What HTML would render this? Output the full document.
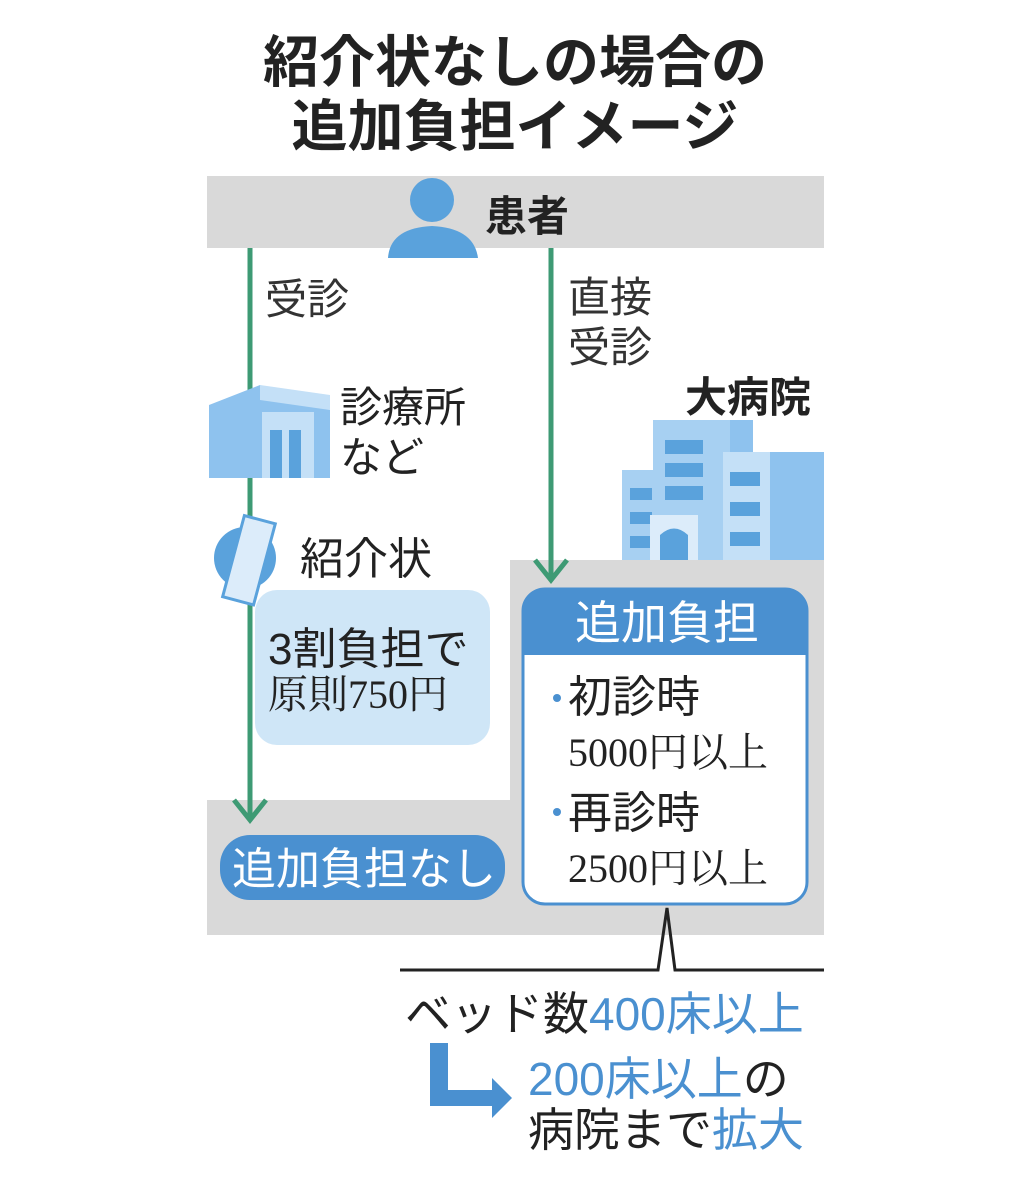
<!DOCTYPE html>
<html><head><meta charset="utf-8"><style>
html,body{margin:0;padding:0;background:#fff;}
svg{display:block;}
text{font-family:"Liberation Sans","Noto Sans CJK JP",sans-serif;}
.s{font-family:"Liberation Serif","Noto Serif CJK SC",serif;}
</style></head><body>
<svg width="1031" height="1200" viewBox="0 0 1031 1200" xmlns="http://www.w3.org/2000/svg">
<text x="515" y="82" font-size="56" font-weight="bold" text-anchor="middle" fill="#222">紹介状なしの場合の</text>
<text x="515" y="146" font-size="56" font-weight="bold" text-anchor="middle" fill="#222">追加負担イメージ</text>
<rect x="207" y="176" width="617" height="72" fill="#d9d9d9"/>
<circle cx="432" cy="200" r="22" fill="#5aa2dc"/>
<path d="M388 258 Q390 228 432 226 Q474 228 478 258 Z" fill="#5aa2dc"/>
<text x="485" y="231" font-size="42" font-weight="bold" fill="#222">患者</text>
<polygon points="207,800 510,800 510,560 824,560 824,935 207,935" fill="#d9d9d9"/>
<g stroke="#3e9a74" stroke-width="5" fill="none">
<line x1="250" y1="248" x2="250" y2="818"/>
<polyline points="234,800 250,820 266,800"/>
<line x1="551" y1="248" x2="551" y2="578"/>
<polyline points="535,560 551,580 567,560"/>
</g>
<text x="265" y="314" font-size="42" fill="#333">受診</text>
<text x="568" y="312" font-size="42" fill="#333">直接</text>
<text x="568" y="362" font-size="42" fill="#333">受診</text>
<!-- clinic -->
<polygon points="209,405 260,385 330,410 330,478 209,478" fill="#8ec2ee"/>
<polygon points="260,385 330,395 330,410 260,400" fill="#c4e0f7"/>
<rect x="262" y="412" width="52" height="66" fill="#c4e0f7"/>
<rect x="270" y="430" width="12" height="48" fill="#5aa2dc"/>
<rect x="289" y="430" width="12" height="48" fill="#5aa2dc"/>
<text x="340" y="422" font-size="42" fill="#222">診療所</text>
<text x="340" y="472" font-size="42" fill="#222">など</text>
<!-- letter -->
<circle cx="245" cy="558" r="31" fill="#5aa2dc"/>
<g transform="rotate(15 248 560)"><rect x="233" y="518" width="32" height="84" fill="#dcecfa" stroke="#5aa2dc" stroke-width="3"/></g>
<text x="300" y="574" font-size="44" fill="#222">紹介状</text>
<rect x="255" y="590" width="235" height="155" rx="22" fill="#cfe6f7"/>
<text x="268" y="664" font-size="44" fill="#222">3割負担で</text>
<text x="268" y="708" font-size="40" class="s" fill="#222">原則750円</text>
<!-- hospital -->
<rect x="622" y="470" width="60" height="90" fill="#a7d0f2"/>
<rect x="653" y="420" width="100" height="140" fill="#a7d0f2"/>
<rect x="730" y="420" width="23" height="140" fill="#8ec2ee"/>
<rect x="723" y="452" width="101" height="108" fill="#c4e0f7"/>
<rect x="770" y="452" width="54" height="108" fill="#8ec2ee"/>
<g fill="#5aa2dc">
<rect x="665" y="440" width="38" height="14"/><rect x="665" y="463" width="38" height="14"/><rect x="665" y="486" width="38" height="14"/>
<rect x="630" y="488" width="22" height="12"/><rect x="630" y="512" width="22" height="12"/><rect x="630" y="536" width="22" height="12"/>
<rect x="730" y="472" width="30" height="14"/><rect x="730" y="502" width="30" height="14"/><rect x="730" y="532" width="30" height="14"/>
</g>
<rect x="650" y="515" width="48" height="45" fill="#dcecfa"/>
<path d="M660 560 V535 Q674 522 688 535 V560 Z" fill="#5aa2dc"/>
<text x="685" y="412" font-size="42" font-weight="bold" fill="#222">大病院</text>
<!-- pills -->
<rect x="220" y="835" width="285" height="65" rx="30" fill="#4a90d0"/>
<text x="364" y="884" font-size="44" fill="#fff" text-anchor="middle">追加負担なし</text>
<rect x="523" y="589" width="284" height="315" rx="22" fill="#fff" stroke="#4a90d0" stroke-width="3"/>
<path d="M523 655 V611 Q523 589 545 589 H785 Q807 589 807 611 V655 Z" fill="#4a90d0"/>
<text x="667" y="639" font-size="46" fill="#fff" text-anchor="middle">追加負担</text>
<circle cx="557" cy="698" r="4" fill="#4a90d0"/>
<text x="568" y="712" font-size="44" fill="#222">初診時</text>
<text x="568" y="766" font-size="40" class="s" fill="#222">5000円以上</text>
<circle cx="557" cy="812" r="4" fill="#4a90d0"/>
<text x="568" y="828" font-size="44" fill="#222">再診時</text>
<text x="568" y="882" font-size="40" class="s" fill="#222">2500円以上</text>
<!-- bracket -->
<polyline points="400,970 658,970 667,908 675,970 824,970" fill="none" stroke="#222" stroke-width="3"/>
<text x="405" y="1030" font-size="46" fill="#222">ベッド数<tspan fill="#4a90d0">400床以上</tspan></text>
<path d="M430 1043 H448 V1090 H492 V1078 L512 1098 L492 1118 V1106 H430 Z" fill="#4a90d0"/>
<text x="528" y="1095" font-size="46" fill="#4a90d0">200床以上<tspan fill="#222">の</tspan></text>
<text x="528" y="1146" font-size="46" fill="#222">病院まで<tspan fill="#4a90d0">拡大</tspan></text>
</svg>
</body></html>
